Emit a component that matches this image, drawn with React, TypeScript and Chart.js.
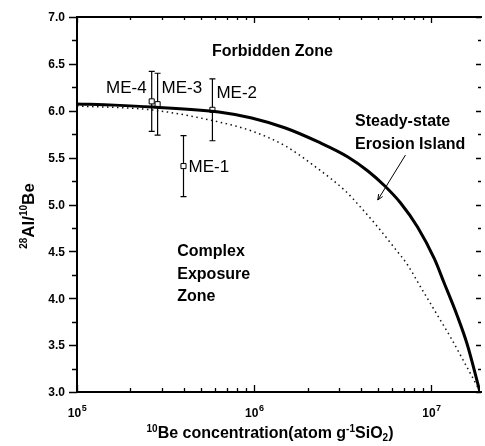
import React, { useEffect, useRef } from 'react';
import { Chart, registerables } from 'chart.js';
Chart.register(...registerables);

// ---- data ----
const xMin = 1e5;
const xMax = 1.88e7;
const yMin = 3.0;
const yMax = 7.0;

const yTickValues = [3.0, 3.5, 4.0, 4.5, 5.0, 5.5, 6.0, 6.5, 7.0];
const yTickLabels = ['3.0', '3.5', '4.0', '4.5', '5.0', '5.5', '6.0', '6.5', '7.0'];
const yMinorValues = [3.25, 3.75, 4.25, 4.75, 5.25, 5.75, 6.25, 6.75];
const xDecadeValues = [1e5, 1e6, 1e7];
const xDecadeExponents = ['5', '6', '7'];
const xMinorValues = [
  2e5, 3e5, 4e5, 5e5, 6e5, 7e5, 8e5, 9e5,
  2e6, 3e6, 4e6, 5e6, 6e6, 7e6, 8e6, 9e6,
];

// steady-state erosion island (solid)
const steadyX = [1e5, 1.63e5, 2.67e5, 6.32e5, 9.68e5, 1.5e6, 2.3e6, 3.38e6, 4.38e6, 5.46e6, 6.7e6, 8.35e6, 1.04e7, 1.18e7, 1.4e7, 1.59e7, 1.88e7];
const steadyY = [6.072, 6.06, 6.04, 5.987, 5.923, 5.816, 5.667, 5.507, 5.357, 5.197, 5.016, 4.76, 4.419, 4.163, 3.811, 3.512, 3.0];

// constant exposure (dotted)
const constX = [1e5, 2.67e5, 6.32e5, 9.68e5, 1.5e6, 2.3e6, 3.27e6, 4.02e6, 4.98e6, 6.19e6, 7.34e6, 8.69e6, 1.08e7, 1.28e7, 1.53e7, 1.81e7, 1.88e7];
const constY = [6.051, 6.008, 5.88, 5.784, 5.624, 5.379, 5.144, 4.963, 4.76, 4.536, 4.355, 4.12, 3.821, 3.587, 3.32, 3.064, 3.0];

// samples
const sampleNames = ['ME-1', 'ME-2', 'ME-3', 'ME-4'];
const sampleX = [3.99e5, 5.81e5, 2.85e5, 2.64e5];
const sampleY = [5.41, 6.01, 6.07, 6.1];
const sampleErr = [0.325, 0.33, 0.33, 0.32];

// ---- styling / layout (not data) ----
const labelOffsets: Record<string, { dx: number; dy: number; align: CanvasTextAlign }> = {
  'ME-1': { dx: 5, dy: 1, align: 'left' },
  'ME-2': { dx: 4, dy: -17, align: 'left' },
  'ME-3': { dx: 4, dy: -16, align: 'left' },
  'ME-4': { dx: -5, dy: -13, align: 'right' },
};

const annotations = [
  { text: 'Forbidden Zone', x: 5.78e5, y: 6.627 },
  { text: 'Steady-state', x: 3.71e6, y: 5.88 },
  { text: 'Erosion Island', x: 3.71e6, y: 5.635 },
  { text: 'Complex', x: 3.68e5, y: 4.493 },
  { text: 'Exposure', x: 3.68e5, y: 4.248 },
  { text: 'Zone', x: 3.68e5, y: 4.013 },
];
const arrowFrom = { x: 7.14e6, y: 5.528 };
const arrowTo = { x: 4.98e6, y: 5.048 };

const FONT = '"Liberation Sans", Arial, Helvetica, sans-serif';

const customPlugin = {
  id: 'customAxes',
  beforeDatasetsDraw(chart: any) {
    const ctx: CanvasRenderingContext2D = chart.ctx;
    const xs = chart.scales.x;
    const ys = chart.scales.y;
    ctx.save();
    ctx.strokeStyle = '#000';
    ctx.lineWidth = 1.2;
    for (let i = 0; i < sampleX.length; i++) {
      const px = xs.getPixelForValue(sampleX[i]);
      const pTop = ys.getPixelForValue(sampleY[i] + sampleErr[i]);
      const pBot = ys.getPixelForValue(sampleY[i] - sampleErr[i]);
      ctx.beginPath();
      ctx.moveTo(px, pTop);
      ctx.lineTo(px, pBot);
      ctx.moveTo(px - 3, pTop);
      ctx.lineTo(px + 3, pTop);
      ctx.moveTo(px - 3, pBot);
      ctx.lineTo(px + 3, pBot);
      ctx.stroke();
    }
    ctx.restore();
  },
  afterDraw(chart: any) {
    const ctx: CanvasRenderingContext2D = chart.ctx;
    const xs = chart.scales.x;
    const ys = chart.scales.y;
    const { left, right, top, bottom } = chart.chartArea;
    ctx.save();
    ctx.strokeStyle = '#000';
    ctx.fillStyle = '#000';

    // frame
    ctx.lineWidth = 2;
    ctx.beginPath();
    ctx.moveTo(left, top - 1);
    ctx.lineTo(left, bottom);
    ctx.lineTo(right + 2, bottom);
    ctx.stroke();
    ctx.lineWidth = 1.8;
    ctx.beginPath();
    ctx.moveTo(left, top);
    ctx.lineTo(right + 2, top);
    ctx.stroke();

    // y ticks
    ctx.lineWidth = 1.3;
    ctx.beginPath();
    yTickValues.forEach((v) => {
      const py = Math.round(ys.getPixelForValue(v)) + 0.5;
      ctx.moveTo(left - 8, py);
      ctx.lineTo(left, py);
      ctx.moveTo(right + 1, py);
      ctx.lineTo(right - 4, py);
    });
    yMinorValues.forEach((v) => {
      const py = Math.round(ys.getPixelForValue(v)) + 0.5;
      ctx.moveTo(left - 5, py);
      ctx.lineTo(left, py);
      ctx.moveTo(right + 1, py);
      ctx.lineTo(right - 2, py);
    });
    // x ticks (inward on bottom and top)
    xDecadeValues.forEach((v) => {
      const px = Math.round(xs.getPixelForValue(v)) + 0.5;
      ctx.moveTo(px, bottom);
      ctx.lineTo(px, bottom - 7);
      ctx.moveTo(px, top);
      ctx.lineTo(px, top + 6);
    });
    xMinorValues.forEach((v) => {
      const px = Math.round(xs.getPixelForValue(v)) + 0.5;
      ctx.moveTo(px, bottom);
      ctx.lineTo(px, bottom - 4);
      ctx.moveTo(px, top);
      ctx.lineTo(px, top + 3);
    });
    ctx.stroke();

    // y tick labels
    ctx.font = `bold 12px ${FONT}`;
    ctx.textAlign = 'right';
    ctx.textBaseline = 'middle';
    yTickValues.forEach((v, i) => {
      ctx.fillText(yTickLabels[i], left - 12, ys.getPixelForValue(v) + 1);
    });

    // x tick labels: 10^n
    xDecadeValues.forEach((v, i) => {
      const px = xs.getPixelForValue(v);
      ctx.font = `bold 12px ${FONT}`;
      const w1 = ctx.measureText('10').width;
      ctx.font = `bold 9px ${FONT}`;
      const w2 = ctx.measureText(xDecadeExponents[i]).width;
      const x0 = px - (w1 + w2) / 2;
      ctx.textAlign = 'left';
      ctx.textBaseline = 'alphabetic';
      ctx.font = `bold 12px ${FONT}`;
      ctx.fillText('10', x0, 417);
      ctx.font = `bold 9px ${FONT}`;
      ctx.fillText(xDecadeExponents[i], x0 + w1 + 0.5, 411);
    });

    // x axis title with super/subscripts
    const parts: { t: string; size: number; dy: number }[] = [
      { t: '10', size: 10, dy: -6 },
      { t: 'Be concentration(atom g', size: 16, dy: 0 },
      { t: '-1', size: 10, dy: -6 },
      { t: 'SiO', size: 16, dy: 0 },
      { t: '2', size: 10, dy: 3 },
      { t: ')', size: 16, dy: 0 },
    ];
    let total = 0;
    parts.forEach((p) => {
      ctx.font = `bold ${p.size}px ${FONT}`;
      total += ctx.measureText(p.t).width;
    });
    let cx = 270 - total / 2;
    ctx.textAlign = 'left';
    ctx.textBaseline = 'alphabetic';
    parts.forEach((p) => {
      ctx.font = `bold ${p.size}px ${FONT}`;
      ctx.fillText(p.t, cx, 438 + p.dy);
      cx += ctx.measureText(p.t).width;
    });

    // y axis title rotated
    const yparts: { t: string; size: number; dy: number }[] = [
      { t: '28', size: 10, dy: -7 },
      { t: 'Al/', size: 17, dy: 0 },
      { t: '10', size: 10, dy: -7 },
      { t: 'Be', size: 17, dy: 0 },
    ];
    let ytotal = 0;
    yparts.forEach((p) => {
      ctx.font = `bold ${p.size}px ${FONT}`;
      ytotal += ctx.measureText(p.t).width;
    });
    ctx.save();
    ctx.translate(34, 216);
    ctx.rotate(-Math.PI / 2);
    let cy = -ytotal / 2;
    yparts.forEach((p) => {
      ctx.font = `bold ${p.size}px ${FONT}`;
      ctx.fillText(p.t, cy, p.dy);
      cy += ctx.measureText(p.t).width;
    });
    ctx.restore();

    // sample labels
    ctx.font = `17px ${FONT}`;
    ctx.textBaseline = 'middle';
    sampleNames.forEach((n, i) => {
      const o = labelOffsets[n];
      ctx.textAlign = o.align;
      ctx.fillText(n, xs.getPixelForValue(sampleX[i]) + o.dx, ys.getPixelForValue(sampleY[i]) + o.dy);
    });

    // annotations
    ctx.font = `bold 16px ${FONT}`;
    ctx.textAlign = 'left';
    ctx.textBaseline = 'middle';
    annotations.forEach((a) => {
      ctx.fillText(a.text, xs.getPixelForValue(a.x), ys.getPixelForValue(a.y));
    });

    // arrow
    const ax1 = xs.getPixelForValue(arrowFrom.x);
    const ay1 = ys.getPixelForValue(arrowFrom.y);
    const ax2 = xs.getPixelForValue(arrowTo.x);
    const ay2 = ys.getPixelForValue(arrowTo.y);
    ctx.lineWidth = 1;
    ctx.beginPath();
    ctx.moveTo(ax1, ay1);
    ctx.lineTo(ax2, ay2);
    const ang = Math.atan2(ay2 - ay1, ax2 - ax1);
    const hl = 6;
    ctx.moveTo(ax2, ay2);
    ctx.lineTo(ax2 - hl * Math.cos(ang - 0.4), ay2 - hl * Math.sin(ang - 0.4));
    ctx.moveTo(ax2, ay2);
    ctx.lineTo(ax2 - hl * Math.cos(ang + 0.4), ay2 - hl * Math.sin(ang + 0.4));
    ctx.stroke();

    ctx.restore();
  },
};

export default function App() {
  const canvasRef = useRef<HTMLCanvasElement | null>(null);

  useEffect(() => {
    document.body.style.margin = '0';
    const canvas = canvasRef.current;
    if (!canvas) return;
    const chart = new Chart(canvas, {
      type: 'scatter',
      data: {
        datasets: [
          {
            label: 'Steady-state',
            data: steadyX.map((x, i) => ({ x, y: steadyY[i] })),
            showLine: true,
            borderColor: '#000',
            borderWidth: 3,
            pointRadius: 0,
            cubicInterpolationMode: 'monotone',
            fill: false,
          },
          {
            label: 'Constant exposure',
            data: constX.map((x, i) => ({ x, y: constY[i] })),
            showLine: true,
            borderColor: '#111',
            borderWidth: 1.5,
            borderDash: [1.5, 3.5],
            pointRadius: 0,
            cubicInterpolationMode: 'monotone',
            fill: false,
          },
          {
            label: 'Samples',
            data: sampleX.map((x, i) => ({ x, y: sampleY[i] })),
            showLine: false,
            pointStyle: 'rect',
            pointRadius: 3.6,
            pointBackgroundColor: '#fff',
            pointBorderColor: '#000',
            pointBorderWidth: 1,
          },
        ],
      },
      options: {
        animation: false,
        responsive: false,
        maintainAspectRatio: false,
        layout: { padding: { left: 77, top: 17, right: 1, bottom: 54 } },
        plugins: {
          legend: { display: false },
          tooltip: { enabled: false },
        },
        scales: {
          x: { type: 'logarithmic', min: xMin, max: xMax, display: false },
          y: { type: 'linear', min: yMin, max: yMax, display: false },
        },
      },
      plugins: [customPlugin],
    });
    return () => chart.destroy();
  }, []);

  return (
    <div style={{ width: 485, height: 446, background: '#fff' }}>
      <canvas ref={canvasRef} width={485} height={446} style={{ display: 'block' }} />
    </div>
  );
}
